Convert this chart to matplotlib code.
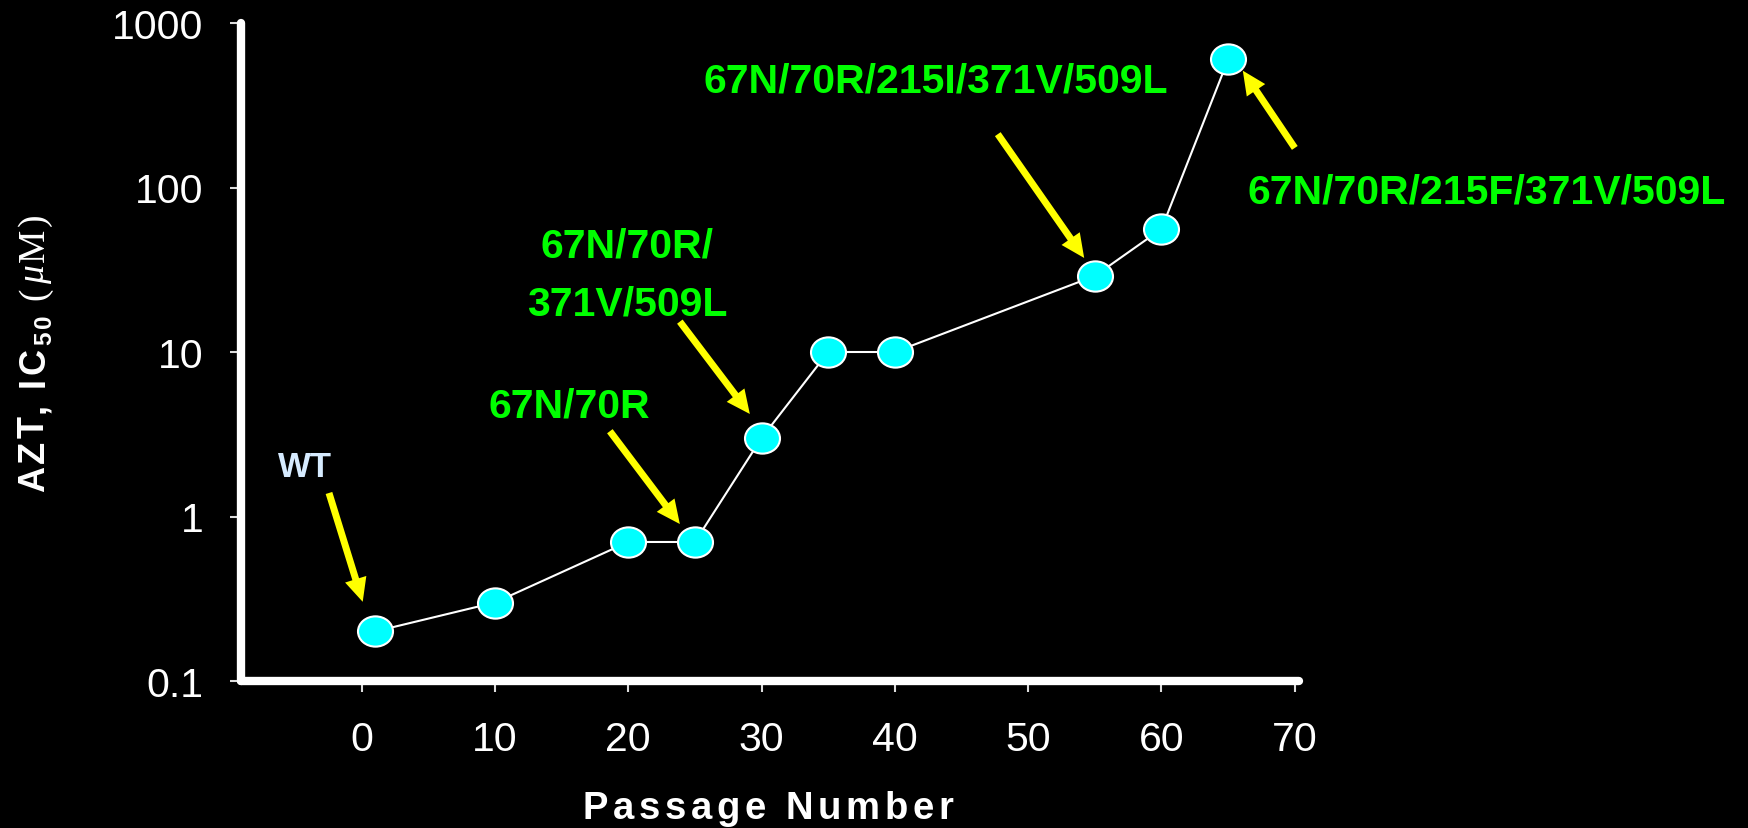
import numpy as np
import matplotlib
matplotlib.use("Agg")
import matplotlib.pyplot as plt
from matplotlib.path import Path
from matplotlib.font_manager import FontProperties, findfont
from matplotlib.ft2font import FT2Font

# ---------------- data ----------------
passage = [1, 10, 20, 25, 30, 35, 40, 55, 60, 65]
ic50 = [0.2, 0.3, 0.7, 0.7, 3, 10, 10, 29, 56, 600]

x_ticks = [0, 10, 20, 30, 40, 50, 60, 70]
y_ticks = [0.1, 1, 10, 100, 1000]
y_tick_labels = ["0.1", "1", "10", "100", "1000"]

# annotation labels: (text, x, y) in data coordinates (baseline, centered)
label_texts = ["WT", "67N/70R", "67N/70R/", "371V/509L",
               "67N/70R/215I/371V/509L", "67N/70R/215F/371V/509L"]
label_x = [-4.24, 15.55, 19.9, 19.9, 43.08, 84.4]
label_y = [1.76, 4.03, 38.0, 16.8, 382, 81.6]
label_colors = ["#D6EBFF", "#00FF00", "#00FF00", "#00FF00", "#00FF00", "#00FF00"]
label_sizes = [25, 29.5, 29.5, 29.5, 29.5, 29.5]

# arrows: tail (x, y) -> tip (x, y) in data coordinates
arrow_tail_x = [-2.45, 18.62, 23.87, 47.72, 70.0]
arrow_tail_y = [1.39, 3.30, 15.3, 211, 174]
arrow_tip_x = [0.08, 23.87, 29.12, 54.2, 66.1]
arrow_tip_y = [0.303, 0.90, 4.20, 37.3, 513]

x_label = "Passage Number"
# y label pieces: text, family, weight, style, size(pt), baseline shift(px)
y_label_parts = [("AZT, IC", "Liberation Sans", "bold", "normal", 26, 0),
                 ("50", "Liberation Sans", "bold", "normal", 17.5, 7),
                 (" ", "Liberation Serif", "normal", "normal", 26, 0),
                 ("(", "Liberation Serif", "normal", "normal", 27, 0),
                 ("\u03bc", "Liberation Serif", "normal", "italic", 27, 0),
                 ("M)", "Liberation Serif", "normal", "normal", 27, 0)]

# ---------------- style ----------------
plt.rcParams['font.family'] = ['Liberation Sans', 'DejaVu Sans']

W, H, DPI = 1748, 829, 100
fig = plt.figure(figsize=(W / DPI, H / DPI), dpi=DPI, facecolor='black')
ax = fig.add_axes([241 / W, (H - 682) / H, (1298.8 - 241) / W, (682 - 24) / H])
ax.set_facecolor('black')

ax.set_yscale('log')
ax.set_xlim(-9.05, 70.3)
ax.set_ylim(0.1, 1000)

for s in ['top', 'right']:
    ax.spines[s].set_visible(False)
for s in ['left', 'bottom']:
    ax.spines[s].set_color('white')
    ax.spines[s].set_linewidth(6.0)
    ax.spines[s].set_capstyle('round')

ax.set_xticks(x_ticks)
ax.set_xticklabels([str(v) for v in x_ticks])
ax.set_yticks(y_ticks)
ax.set_yticklabels(y_tick_labels)
ax.yaxis.set_minor_locator(matplotlib.ticker.NullLocator())
ax.tick_params(axis='both', which='major', direction='out', length=8,
               width=1.5, color='#DDDDDD', labelcolor='white', labelsize=29.5)
ax.tick_params(axis='y', pad=19)
ax.tick_params(axis='x', pad=20)

# ellipse marker
circ = Path.unit_circle()
ell = Path(circ.vertices * np.array([1.0, 32.0 / 37.0]), circ.codes)

ax.plot(passage, ic50, color='white', linewidth=1.5, marker=ell,
        markersize=25.2, markerfacecolor='#00FFFF', markeredgecolor='white',
        markeredgewidth=1.5, zorder=3, clip_on=False)

# arrows
for tx, ty, hx, hy in zip(arrow_tail_x, arrow_tail_y, arrow_tip_x, arrow_tip_y):
    ax.annotate("", xy=(hx, hy), xytext=(tx, ty),
                arrowprops=dict(facecolor='#FFFF00', edgecolor='none',
                                width=5, headwidth=16, headlength=17, shrink=0),
                annotation_clip=False, zorder=4)

# labels
for t, x, y, c, fs in zip(label_texts, label_x, label_y, label_colors, label_sizes):
    ax.text(x, y, t, color=c, fontsize=fs, fontweight='bold', ha='center',
            va='baseline', clip_on=False, zorder=5)


def advances(text, family, weight, style, size):
    fp = FontProperties(family=family, weight=weight, style=style, size=size)
    font = FT2Font(findfont(fp))
    font.set_size(size, DPI)
    return [font.load_char(ord(ch)).linearHoriAdvance / 65536.0 for ch in text]


# y label (rotated, with letter spacing)
yl_base_x = 44      # px, baseline column
yl_start = 492      # px from top, start (bottom of 'A')
yl_extra = 3.0
try:
    pos = yl_start
    for txt, fam, wt, st, sz, shift in y_label_parts:
        advs = advances(txt, fam, wt, st, sz)
        for ch, a in zip(txt, advs):
            if ch != " ":
                fig.text((yl_base_x + shift) / W, 1 - pos / H, ch, color='white',
                         fontsize=sz, family=fam, fontweight=wt, fontstyle=st,
                         rotation=90, rotation_mode='anchor',
                         ha='left', va='baseline')
            pos -= a + yl_extra
except Exception:
    fig.text(30 / W, 1 - 350 / H, "AZT, IC50 (\u03bcM)", color='white',
             fontsize=26, fontweight='bold', rotation=90, ha='center', va='center')

# x label with letter spacing
xl_size = 27.5
xl_center = 768
xl_base = 819
xl_extra = 4.6
try:
    advs = advances(x_label, 'Liberation Sans', 'bold', 'normal', xl_size)
    total = sum(advs) + xl_extra * (len(x_label) - 1)
    xpos = xl_center - total / 2.0
    for ch, a in zip(x_label, advs):
        if ch != " ":
            fig.text(xpos / W, 1 - xl_base / H, ch, color='white', fontsize=xl_size,
                     fontweight='bold', ha='left', va='baseline')
        xpos += a + xl_extra
except Exception:
    fig.text(xl_center / W, 1 - xl_base / H, x_label, color='white',
             fontsize=xl_size + 3, fontweight='bold', ha='center', va='baseline')

fig.savefig('out.png', dpi=DPI, facecolor='black')
